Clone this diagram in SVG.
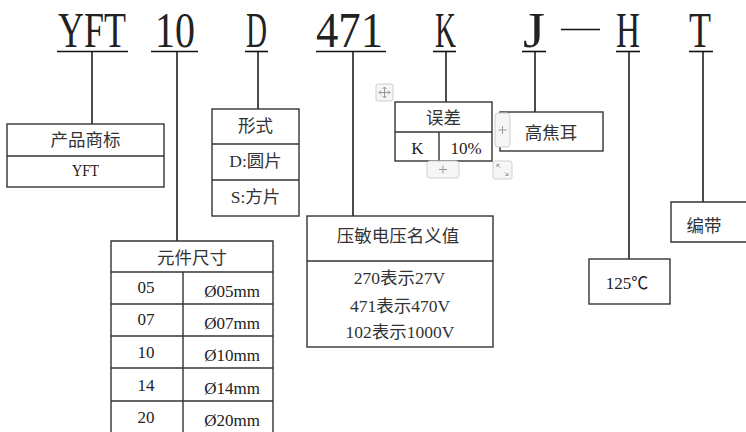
<svg xmlns="http://www.w3.org/2000/svg" width="746" height="432" viewBox="0 0 746 432">
<style>
.big{font-family:"Liberation Serif","Noto Sans CJK SC",serif;font-size:50px;fill:#222}
.t{font-family:"Liberation Serif","Noto Sans CJK SC",serif;font-size:17px;fill:#222}
.c{font-family:"Liberation Serif","Noto Sans CJK SC",serif;font-size:17.5px;fill:#333}
.box{fill:#fff;stroke:#333;stroke-width:1.4}
.ln{stroke:#333;stroke-width:1.4;fill:none}
.conn{stroke:#111;stroke-width:1.5;fill:none}
.ul{stroke:#111;stroke-width:1.6}
.ui{fill:#f6f6f6;stroke:#cfcfcf;stroke-width:1}
.uig{stroke:#999;stroke-width:1;fill:none}
</style>
<rect width="746" height="432" fill="#fff"/>
<g id="code">
<text class="big" x="58" y="47" textLength="68" lengthAdjust="spacingAndGlyphs">YFT</text>
<text class="big" x="155" y="47" textLength="40" lengthAdjust="spacingAndGlyphs">10</text>
<text class="big" x="246" y="47" textLength="21" lengthAdjust="spacingAndGlyphs">D</text>
<text class="big" x="316" y="47" textLength="67" lengthAdjust="spacingAndGlyphs">471</text>
<text class="big" x="435" y="47" textLength="21" lengthAdjust="spacingAndGlyphs">K</text>
<text class="big" x="523" y="47" textLength="22" lengthAdjust="spacingAndGlyphs">J</text>
<text class="big" x="616" y="47" textLength="24" lengthAdjust="spacingAndGlyphs">H</text>
<text class="big" x="689" y="47" textLength="22" lengthAdjust="spacingAndGlyphs">T</text>
<line class="ul" x1="561" y1="29.5" x2="600" y2="29.5" stroke-width="2.8"/>
<line class="ul" x1="57" y1="51.5" x2="128" y2="51.5"/>
<line class="ul" x1="151" y1="51.5" x2="198" y2="51.5"/>
<line class="ul" x1="245" y1="51.5" x2="268" y2="51.5"/>
<line class="ul" x1="316" y1="51.5" x2="386" y2="51.5"/>
<line class="ul" x1="433" y1="51.5" x2="456" y2="51.5"/>
<line class="ul" x1="522" y1="51.5" x2="546" y2="51.5"/>
<line class="ul" x1="616" y1="51.5" x2="640" y2="51.5"/>
<line class="ul" x1="689" y1="51.5" x2="713" y2="51.5"/>
</g>
<g id="connectors">
<line class="conn" x1="92" y1="52" x2="92" y2="124"/>
<line class="conn" x1="177" y1="52" x2="177" y2="241"/>
<line class="conn" x1="258" y1="52" x2="258" y2="109"/>
<line class="conn" x1="353" y1="52" x2="353" y2="216"/>
<line class="conn" x1="446" y1="52" x2="446" y2="102"/>
<line class="conn" x1="535" y1="52" x2="535" y2="112"/>
<line class="conn" x1="629" y1="52" x2="629" y2="259"/>
<line class="conn" x1="703" y1="52" x2="703" y2="202"/>
</g>
<g id="brand">
<rect class="box" x="7" y="124" width="157" height="63"/>
<line class="ln" x1="7" y1="156" x2="164" y2="156"/>
<text class="c" x="85.5" y="146" text-anchor="middle">产品商标</text>
<text class="t" x="72" y="176" font-size="18" textLength="27" lengthAdjust="spacingAndGlyphs">YFT</text>
</g>
<g id="form">
<rect class="box" x="212" y="109" width="87" height="107"/>
<line class="ln" x1="212" y1="144" x2="299" y2="144"/>
<line class="ln" x1="212" y1="180" x2="299" y2="180"/>
<text class="c" x="255.5" y="132" text-anchor="middle">形式</text>
<text class="c" x="255.5" y="167" text-anchor="middle">D:圆片</text>
<text class="c" x="255.5" y="203" text-anchor="middle">S:方片</text>
</g>
<g id="size">
<path class="box" d="M111 433 V241 H273 V433"/>
<line class="ln" x1="111" y1="272" x2="273" y2="272"/>
<line class="ln" x1="111" y1="304" x2="273" y2="304"/>
<line class="ln" x1="111" y1="336" x2="273" y2="336"/>
<line class="ln" x1="111" y1="368" x2="273" y2="368"/>
<line class="ln" x1="111" y1="401" x2="273" y2="401"/>
<line class="ln" x1="183" y1="272" x2="183" y2="433"/>
<text class="c" x="192" y="264" text-anchor="middle">元件尺寸</text>
<g class="t" text-anchor="middle">
<text x="146" y="293">05</text>
<text x="146" y="325">07</text>
<text x="146" y="358">10</text>
<text x="146" y="391">14</text>
<text x="146" y="423">20</text>
</g>
<g class="t" font-size="18" text-anchor="middle">
<text x="232" y="297">Ø05mm</text>
<text x="232" y="329">Ø07mm</text>
<text x="232" y="361">Ø10mm</text>
<text x="232" y="394">Ø14mm</text>
<text x="232" y="426">Ø20mm</text>
</g>
</g>
<g id="voltage">
<rect class="box" x="307" y="216" width="186" height="131"/>
<line class="ln" x1="307" y1="261" x2="493" y2="261"/>
<text class="c" x="398" y="242" text-anchor="middle">压敏电压名义值</text>
<text class="c" x="399.5" y="284" text-anchor="middle">270表示27V</text>
<text class="c" x="400" y="312" text-anchor="middle">471表示470V</text>
<text class="c" x="400" y="338" text-anchor="middle">102表示1000V</text>
</g>
<g id="tolerance">
<rect class="box" x="395" y="102" width="97" height="59"/>
<line class="ln" x1="395" y1="132" x2="492" y2="132"/>
<line class="ln" x1="439" y1="132" x2="439" y2="161"/>
<text class="c" x="443.5" y="124" text-anchor="middle">误差</text>
<text class="t" x="417.5" y="154" font-size="18.5" text-anchor="middle">K</text>
<text class="t" x="466" y="154" font-size="18.5" text-anchor="middle">10%</text>
</g>
<g id="highjoule">
<rect class="box" x="500" y="112" width="103" height="39"/>
<text class="c" x="551" y="139" text-anchor="middle">高焦耳</text>
</g>
<g id="temp">
<rect class="box" x="589" y="259" width="81" height="45"/>
<text class="t" x="627" y="289" font-size="18" text-anchor="middle">125℃</text>
</g>
<g id="tape">
<path class="box" d="M747 202 H671 V242 H747"/>
<text class="c" x="704" y="232" text-anchor="middle">编带</text>
</g>
<g id="ui-handles">
<rect class="ui" x="376" y="84" width="17" height="17" rx="2"/>
<path class="uig" d="M384.5 87 V98 M379 92.5 H390 M382.5 89 L384.5 87 L386.5 89 M382.5 96 L384.5 98 L386.5 96 M381 90.5 L379 92.5 L381 94.5 M388 90.5 L390 92.5 L388 94.5"/>
<rect class="ui" x="495" y="113" width="15" height="34" rx="3"/>
<path class="uig" d="M502.5 126 V134 M498.5 130 H506.5"/>
<rect class="ui" x="427" y="161" width="32" height="17" rx="3"/>
<path class="uig" d="M443 165.5 V173.5 M439 169.5 H447"/>
<rect class="ui" x="493" y="161" width="19" height="18" rx="2"/>
<path class="uig" d="M497 164.5 L500 167.5 M497 164.5 H499.5 M497 164.5 V167 M508 175.5 L505 172.5 M508 175.5 H505.5 M508 175.5 V173"/>
</g>
</svg>
